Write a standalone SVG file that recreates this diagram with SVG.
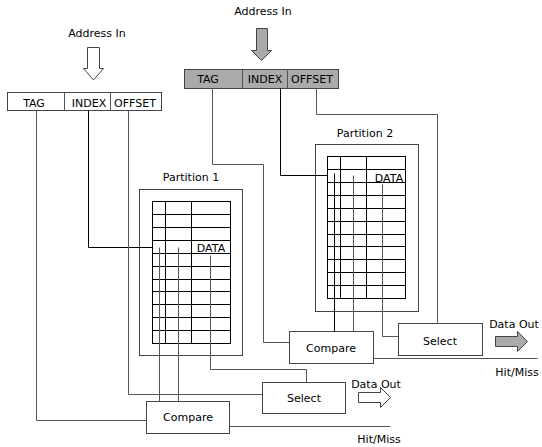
<svg xmlns="http://www.w3.org/2000/svg" width="542" height="447" viewBox="0 0 542 447">
<style>
text{font-family:"DejaVu Sans",Verdana,sans-serif;font-size:11px;fill:#000}
.c{text-anchor:middle}
.w{stroke:#555;stroke-width:1;fill:none}
.t{stroke:#000;stroke-width:1;fill:none}
.box{stroke:#444;stroke-width:1;fill:#fff}
.g{fill:#aaa;stroke:#444;stroke-width:1}
</style>
<defs>
<g id="table">
<rect x="0" y="0" width="78" height="142" class="t"/>
<path class="t" d="M13,0V142M39,0V142M0,13H78M0,26H78M0,39H78M0,52H78M0,65H78M0,78H78M0,90H78M0,103H78M0,116H78M0,129H78"/>
</g>
</defs>
<g id="reg1">
<rect x="7.5" y="92.5" width="154" height="18" fill="#fff" stroke="#444"/>
<path class="w" d="M64.5,92.5V110.5M110.5,92.5V110.5"/>
<text x="34" y="107" class="c">TAG</text>
<text x="89" y="107" class="c">INDEX</text>
<text x="135" y="107" class="c">OFFSET</text>
</g>
<g id="addr1">
<text x="97" y="37" class="c">Address In</text>
<polygon points="87.5,47.5 99.5,47.5 99.5,68.5 103.5,68.5 93.5,80 83.5,68.5 87.5,68.5" fill="#fff" stroke="#444"/>
</g>
<g id="reg2">
<rect x="184.5" y="69.5" width="154" height="19" class="g"/>
<path class="w" d="M242.5,69.5V88.5M287.5,69.5V88.5" stroke="#444"/>
<text x="208" y="83" class="c">TAG</text>
<text x="265" y="83" class="c">INDEX</text>
<text x="312" y="83" class="c">OFFSET</text>
</g>
<g id="addr2">
<text x="263" y="15" class="c">Address In</text>
<polygon points="256.5,28.5 267.5,28.5 267.5,50.5 271.5,50.5 261.5,60.5 251.5,50.5 256.5,50.5" class="g"/>
</g>
<g id="partition1">
<text x="191" y="181" class="c">Partition 1</text>
<rect x="139.5" y="189.5" width="103" height="166" class="box"/>
<use href="#table" x="152.5" y="201.5"/>
<text x="211" y="252" class="c">DATA</text>
</g>
<g id="partition2">
<text x="365" y="137" class="c">Partition 2</text>
<rect x="315.5" y="144.5" width="103" height="167" class="box"/>
<use href="#table" x="327.5" y="156.5"/>
<text x="389" y="182" class="c">DATA</text>
</g>
<g id="compare1">
<rect x="146.5" y="401.5" width="83" height="32" class="box"/>
<text x="188" y="421" class="c">Compare</text>
</g>
<g id="select1">
<rect x="262.5" y="382.5" width="83" height="31" class="box"/>
<text x="304" y="402" class="c">Select</text>
</g>
<g id="compare2">
<rect x="289.5" y="331.5" width="84" height="32" class="box"/>
<text x="331" y="352" class="c">Compare</text>
</g>
<g id="select2">
<rect x="398.5" y="323.5" width="84" height="32" class="box"/>
<text x="440" y="345" class="c">Select</text>
</g>
<g id="out1">
<text x="376" y="388" class="c">Data Out</text>
<polygon points="358.5,392.5 380.5,392.5 380.5,387.5 390.5,397.5 380.5,407.5 380.5,402.5 358.5,402.5" fill="#fff" stroke="#444"/>
<text x="379" y="443" class="c">Hit/Miss</text>
</g>
<g id="out2">
<text x="514" y="328" class="c">Data Out</text>
<polygon points="495.5,336.5 517.5,336.5 517.5,331.5 527.5,341.5 517.5,351.5 517.5,346.5 495.5,346.5" class="g"/>
<text x="517" y="376" class="c">Hit/Miss</text>
</g>
<g id="connectors">
<path class="w" d="M36.5,110.5V420.5H146.5"/>
<path class="t" d="M88.5,110.5V247.5H152.5" stroke="#333"/>
<path class="w" d="M128.5,110.5V394.5H262.5"/>
<path class="w" d="M159.5,247.5V401.5M178.5,247.5V401.5"/>
<path class="w" d="M210.5,255.5V369.5H306.5V382.5"/>
<path class="w" d="M229.5,426.5H390.5"/>
<path class="w" d="M212.5,88.5V164.5H263.5V342.5H289.5"/>
<path class="t" d="M280.5,88.5V175.5H327.5" stroke="#333"/>
<path class="w" d="M316.5,88.5V114.5H437.5V323.5"/>
<path class="t" d="M334.5,173.5V331.5" stroke="#111"/>
<path class="w" d="M353.5,175.5V331.5"/>
<path class="w" d="M382.5,184.5V336.5H398.5"/>
<path class="w" d="M373.5,358.5H537.5"/>
</g>
</svg>
